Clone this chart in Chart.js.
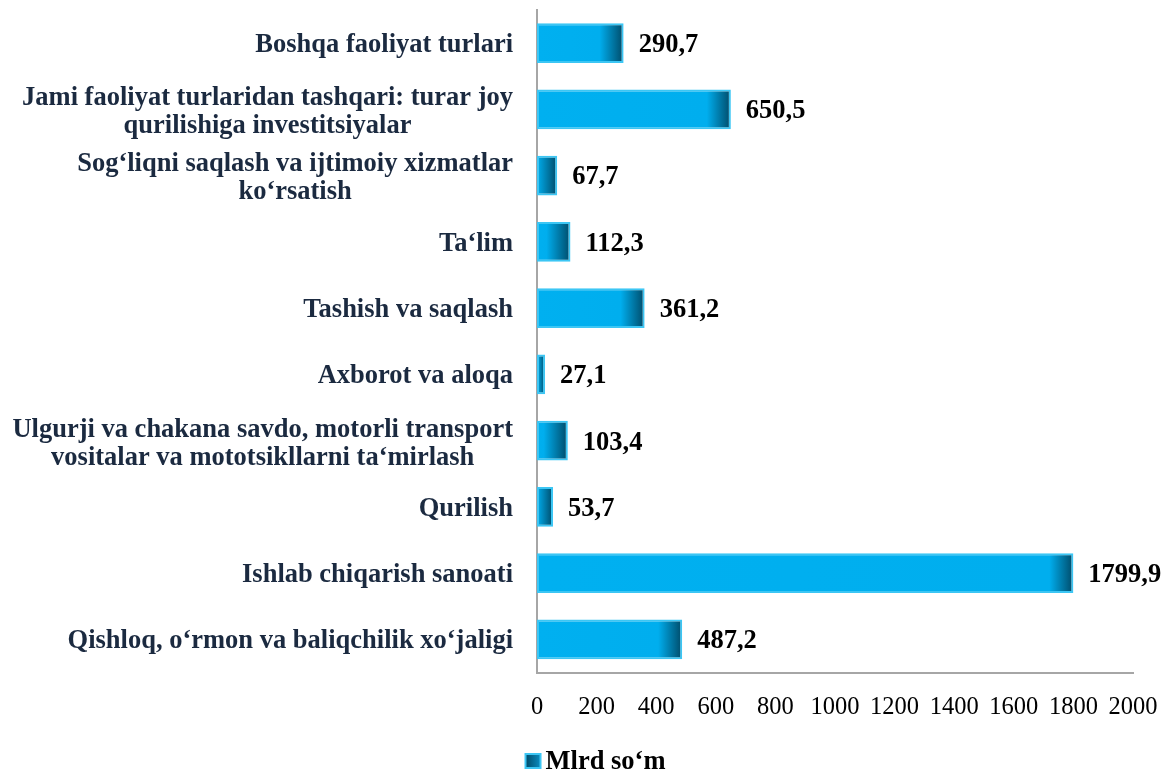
<!DOCTYPE html>
<html>
<head>
<meta charset="utf-8">
<script src="https://cdn.jsdelivr.net/npm/chart.js@4/dist/chart.umd.min.js"></script>
<style>
  html, body { margin: 0; padding: 0; background: #fff; }
  #wrap { width: 1165px; height: 769px; }
</style>
</head>
<body>
<div id="wrap"><canvas id="investChart"></canvas></div>
<script>
// categories, top to bottom
const categories = [
  ["Boshqa faoliyat turlari"],
  ["Jami faoliyat turlaridan tashqari: turar joy", "qurilishiga investitsiyalar"],
  ["Sog\u2018liqni saqlash va ijtimoiy xizmatlar", "ko\u2018rsatish"],
  ["Ta\u2018lim"],
  ["Tashish va saqlash"],
  ["Axborot va aloqa"],
  ["Ulgurji va chakana savdo, motorli transport", "vositalar va mototsikllarni ta\u2018mirlash"],
  ["Qurilish"],
  ["Ishlab chiqarish sanoati"],
  ["Qishloq, o\u2018rmon va baliqchilik xo\u2018jaligi"]
];
const values = [290.7, 650.5, 67.7, 112.3, 361.2, 27.1, 103.4, 53.7, 1799.9, 487.2];
const seriesName = "Mlrd so\u2018m";
const xMin = 0, xMax = 2000, xStep = 200;

const serif = "'Liberation Serif', 'Times New Roman', serif";
const fmt = v => v.toFixed(1).replace(".", ",");

// bar fill: bright blue fading to dark at the bar end
function barFill(ctx) {
  const chart = ctx.chart;
  if (!chart.chartArea || ctx.raw == null) return "#00b0f0";
  const xs = chart.scales.x;
  const x0 = xs.getPixelForValue(0);
  const x1 = xs.getPixelForValue(ctx.raw);
  const g = chart.ctx.createLinearGradient(x0, 0, x1, 0);
  const f = Math.max(0, 1 - 24 / Math.max(1, x1 - x0));
  g.addColorStop(0, "#00b0f0");
  g.addColorStop(f, "#00aeee");
  g.addColorStop(1, "#004a68");
  return g;
}

// category labels drawn as centred blocks, right edge near the axis
const catLabels = {
  id: "catLabels",
  afterDraw(chart) {
    const c = chart.ctx, ys = chart.scales.y;
    c.save();
    c.font = "bold 26.5px " + serif;
    c.fillStyle = "#1b2a40";
    c.textAlign = "center";
    c.textBaseline = "middle";
    const right = chart.chartArea.left - 24;
    categories.forEach((lines, i) => {
      const cy = ys.getPixelForTick(i) + (lines.length > 1 ? 3 : 2);
      const w = Math.max(...lines.map(l => c.measureText(l).width));
      const cx = right - w / 2;
      lines.forEach((l, k) => {
        c.fillText(l, cx, cy + (k - (lines.length - 1) / 2) * 28);
      });
    });
    c.restore();
  }
};

// value labels at the bar ends
const valueLabels = {
  id: "valueLabels",
  afterDatasetsDraw(chart) {
    const c = chart.ctx;
    const meta = chart.getDatasetMeta(0);
    c.save();
    c.font = "bold 26.5px " + serif;
    c.fillStyle = "#000";
    c.textAlign = "left";
    c.textBaseline = "middle";
    meta.data.forEach((bar, i) => {
      c.fillText(fmt(values[i]), bar.x + 15, bar.y + 2);
    });
    c.restore();
  }
};

// legend: small square and bold series name under the axis
const legendBox = {
  id: "legendBox",
  afterDraw(chart) {
    const c = chart.ctx;
    c.save();
    c.font = "bold 26.5px " + serif;
    const tw = c.measureText(seriesName).width;
    const total = 15 + 5 + tw;
    const x = chart.width / 2 + 13 - total / 2;
    const cy = 761;
    const g = c.createLinearGradient(x, 0, x + 15, 0);
    g.addColorStop(0, "#004a68");
    g.addColorStop(1, "#0a8cc0");
    c.fillStyle = g;
    c.fillRect(x, cy - 7, 15, 14);
    c.strokeStyle = "#3cc6f4";
    c.lineWidth = 2;
    c.strokeRect(x, cy - 7, 15, 14);
    c.fillStyle = "#000";
    c.textBaseline = "middle";
    c.textAlign = "left";
    c.fillText(seriesName, x + 20, cy + 1);
    c.restore();
  }
};

new Chart(document.getElementById("investChart"), {
  type: "bar",
  data: {
    labels: categories,
    datasets: [{
      label: seriesName,
      data: values,
      backgroundColor: barFill,
      borderColor: "#3cc6f4",
      borderWidth: 2,
      borderSkipped: false,
      barPercentage: 0.6,
      categoryPercentage: 1
    }]
  },
  options: {
    indexAxis: "y",
    responsive: true,
    maintainAspectRatio: false,
    animation: false,
    layout: { padding: { top: 10, right: 32, bottom: 27, left: 0 } },
    scales: {
      x: {
        min: xMin, max: xMax,
        ticks: { stepSize: xStep, color: "#000", padding: 20, maxRotation: 0,
                 autoSkip: false,
                 callback: v => String(v),
                 font: { family: serif, size: 24.5 } },
        grid: { display: false, drawTicks: false },
        border: { display: true, color: "#a6a6a6", width: 2 },
        afterFit(scale) { scale.paddingRight = 0; scale.paddingLeft = 0; }
      },
      y: {
        ticks: { display: false },
        grid: { display: false, drawTicks: false },
        border: { display: true, color: "#a6a6a6", width: 2 },
        afterFit(scale) { scale.width = 537; }
      }
    },
    plugins: {
      tooltip: { enabled: false },
      legend: { display: false }
    }
  },
  plugins: [catLabels, valueLabels, legendBox]
});
</script>
</body>
</html>
